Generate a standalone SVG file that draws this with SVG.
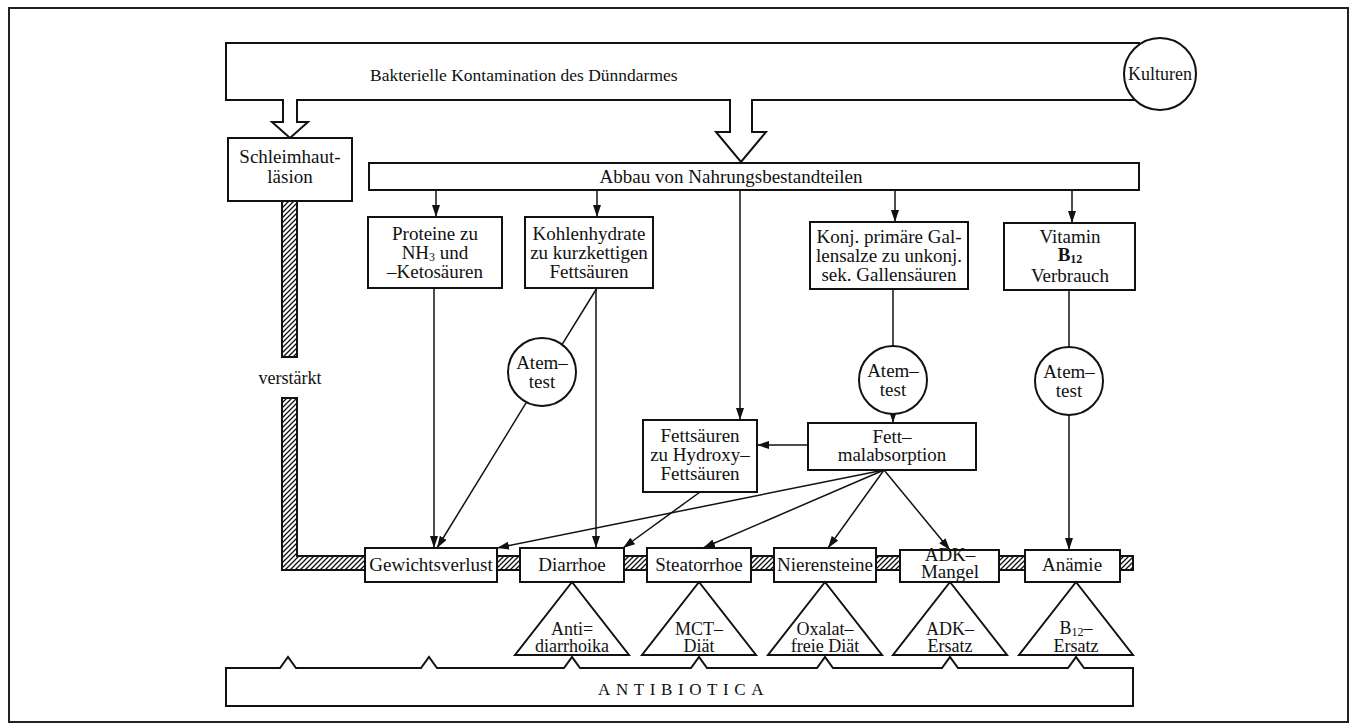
<svg xmlns="http://www.w3.org/2000/svg" width="1354" height="725" viewBox="0 0 1354 725">
<defs>
<style>
.t{font-family:"Liberation Serif","DejaVu Serif",serif;font-size:19px;text-anchor:middle;fill:#111}
.s{font-size:18px}
.st{text-anchor:start}
.box{fill:#fff;stroke:#111;stroke-width:2}
.ln{fill:none;stroke:#111;stroke-width:1.5}
.arr{fill:none;stroke:#111;stroke-width:1.5;marker-end:url(#ah)}
.sub{font-size:12px}
</style>
<marker id="ah" viewBox="0 0 12 8" markerWidth="12" markerHeight="8" refX="12" refY="4" orient="auto" markerUnits="userSpaceOnUse">
<path d="M0,0 L12,4 L0,8 Z" fill="#111"/>
</marker>
<pattern id="hatch" width="5" height="5" patternUnits="userSpaceOnUse">
<rect width="5" height="5" fill="#fff"/>
<path d="M0,5 L5,0 M-1,1 L1,-1 M4,6 L6,4" stroke="#111" stroke-width="1.3"/>
</pattern>
</defs>
<rect x="0" y="0" width="1354" height="725" fill="#fff"/>
<rect x="9" y="8" width="1339" height="714" fill="none" stroke="#222" stroke-width="2"/>

<g id="hatched-band">
<rect x="282" y="201" width="15" height="156" fill="url(#hatch)" stroke="#111" stroke-width="2"/>
<path d="M282,398 L282,570 L1133,570 L1133,556 L297,556 L297,398 Z" fill="url(#hatch)" stroke="#111" stroke-width="2"/>
<text class="t s" x="290" y="384">verstärkt</text>
</g>

<g id="connectors">
<line class="arr" x1="436" y1="190" x2="436" y2="217"/>
<line class="arr" x1="597" y1="190" x2="597" y2="217"/>
<line class="arr" x1="740" y1="190" x2="740" y2="420"/>
<line class="arr" x1="895" y1="190" x2="895" y2="222"/>
<line class="arr" x1="1072" y1="190" x2="1072" y2="223"/>
<line class="arr" x1="434" y1="288" x2="434" y2="548"/>
<line class="ln" x1="597" y1="288" x2="562" y2="344.6"/>
<line class="arr" x1="526.5" y1="402.2" x2="437" y2="548"/>
<line class="arr" x1="596" y1="288" x2="596" y2="548"/>
<line class="ln" x1="893" y1="289" x2="893" y2="347"/>
<line class="arr" x1="893" y1="413" x2="893" y2="423"/>
<line class="ln" x1="1069" y1="290" x2="1069" y2="347"/>
<line class="arr" x1="1069" y1="415" x2="1069" y2="550"/>
<line class="arr" x1="808" y1="445" x2="757" y2="445"/>
<line class="arr" x1="700" y1="492" x2="623" y2="548"/>
<line class="arr" x1="884" y1="470" x2="497" y2="548"/>
<line class="arr" x1="884" y1="470" x2="703" y2="548"/>
<line class="arr" x1="884" y1="470" x2="828" y2="548"/>
<line class="arr" x1="884" y1="470" x2="950" y2="550"/>
</g>

<g id="bakterielle-kontamination">
<path d="M1140,43 L226,43 L226,100 L283,100 L283,122 L272,122 L290,138 L308,122 L297,122 L297,100 L730,100 L730,132 L716,132 L741,162 L766,132 L752,132 L752,100 L1136,100" fill="#fff" stroke="#111" stroke-width="2"/>
<text class="t st" x="370" y="81" style="font-size:17.5px">Bakterielle Kontamination des Dünndarmes</text>
</g>
<g id="kulturen">
<circle cx="1160" cy="74" r="36" class="box"/>
<text class="t s" x="1160" y="80">Kulturen</text>
</g>

<g id="schleimhautlaesion">
<rect class="box" x="228" y="138" width="124" height="63"/>
<text class="t" x="290" y="163">Schleimhaut-</text>
<text class="t" x="290" y="183">läsion</text>
</g>

<g id="abbau">
<rect class="box" x="369" y="163" width="770" height="27"/>
<text class="t" x="731" y="183">Abbau von Nahrungsbestandteilen</text>
</g>

<g id="proteine">
<rect class="box" x="368" y="217" width="134" height="71"/>
<text class="t" x="435" y="240">Proteine zu</text>
<text class="t" x="435" y="259">NH<tspan class="sub" dy="2">3</tspan><tspan dy="-2"> und</tspan></text>
<text class="t" x="435" y="278">–Ketosäuren</text>
</g>

<g id="kohlenhydrate">
<rect class="box" x="525" y="217" width="128" height="71"/>
<text class="t" x="589" y="240">Kohlenhydrate</text>
<text class="t" x="589" y="259">zu kurzkettigen</text>
<text class="t" x="589" y="278">Fettsäuren</text>
</g>

<g id="gallensalze">
<rect class="box" x="810" y="222" width="158" height="67"/>
<text class="t" x="889" y="243">Konj. primäre Gal-</text>
<text class="t" x="889" y="262">lensalze zu unkonj.</text>
<text class="t" x="889" y="281">sek. Gallensäuren</text>
</g>

<g id="vitamin-b12">
<rect class="box" x="1004" y="223" width="131" height="67"/>
<text class="t" x="1070" y="243">Vitamin</text>
<text class="t" x="1070" y="261" font-weight="bold">B<tspan class="sub" dy="2">12</tspan></text>
<text class="t" x="1070" y="282">Verbrauch</text>
</g>

<g id="atemtest-1">
<circle class="box" cx="542" cy="372" r="34"/>
<text class="t" x="542" y="369">Atem–</text>
<text class="t" x="542" y="388">test</text>
</g>
<g id="atemtest-2">
<circle class="box" cx="893" cy="380" r="34"/>
<text class="t" x="893" y="377">Atem–</text>
<text class="t" x="893" y="396">test</text>
</g>
<g id="atemtest-3">
<circle class="box" cx="1069" cy="381" r="34"/>
<text class="t" x="1069" y="378">Atem–</text>
<text class="t" x="1069" y="397">test</text>
</g>

<g id="hydroxy-fettsaeuren">
<rect class="box" x="643" y="420" width="114" height="72"/>
<text class="t" x="700" y="442">Fettsäuren</text>
<text class="t" x="700" y="461">zu Hydroxy–</text>
<text class="t" x="700" y="480">Fettsäuren</text>
</g>

<g id="fettmalabsorption">
<rect class="box" x="808" y="423" width="168" height="47"/>
<text class="t" x="892" y="443">Fett–</text>
<text class="t" x="892" y="461">malabsorption</text>
</g>

<g id="gewichtsverlust">
<rect class="box" x="365" y="548" width="132" height="34"/>
<text class="t" x="431" y="571">Gewichtsverlust</text>
</g>
<g id="diarrhoe">
<rect class="box" x="520" y="548" width="104" height="34"/>
<text class="t" x="572" y="571">Diarrhoe</text>
</g>
<g id="steatorrhoe">
<rect class="box" x="647" y="548" width="104" height="34"/>
<text class="t" x="699" y="571">Steatorrhoe</text>
</g>
<g id="nierensteine">
<rect class="box" x="774" y="548" width="102" height="34"/>
<text class="t" x="825" y="571">Nierensteine</text>
</g>
<g id="adk-mangel">
<rect class="box" x="900" y="550" width="99" height="32"/>
<text class="t" x="950" y="561">ADK–</text>
<text class="t" x="950" y="578">Mangel</text>
</g>
<g id="anaemie">
<rect class="box" x="1025" y="550" width="95" height="32"/>
<text class="t" x="1072" y="571">Anämie</text>
</g>

<g id="antidiarrhoika">
<path class="box" d="M572,582 L629,655 L515,655 Z"/>
<text class="t s" x="572" y="635">Anti=</text>
<text class="t s" x="572" y="652">diarrhoika</text>
</g>
<g id="mct-diaet">
<path class="box" d="M699,582 L756,655 L642,655 Z"/>
<text class="t s" x="699" y="635">MCT–</text>
<text class="t s" x="699" y="652">Diät</text>
</g>
<g id="oxalatfreie-diaet">
<path class="box" d="M825,582 L882,655 L768,655 Z"/>
<text class="t s" x="825" y="635">Oxalat–</text>
<text class="t s" x="825" y="652">freie Diät</text>
</g>
<g id="adk-ersatz">
<path class="box" d="M950,582 L1007,655 L893,655 Z"/>
<text class="t s" x="950" y="635">ADK–</text>
<text class="t s" x="950" y="652">Ersatz</text>
</g>
<g id="b12-ersatz">
<path class="box" d="M1076,582 L1133,655 L1019,655 Z"/>
<text class="t s" x="1076" y="634">B<tspan class="sub" dy="2">12</tspan><tspan dy="-2">–</tspan></text>
<text class="t s" x="1076" y="652">Ersatz</text>
</g>

<g id="antibiotica">
<path class="box" d="M226,668 L280,668 L288,657 L296,668 L421,668 L429,657 L437,668 L564,668 L572,657 L580,668 L691,668 L699,657 L707,668 L817,668 L825,657 L833,668 L942,668 L950,657 L958,668 L1068,668 L1076,657 L1084,668 L1133,668 L1133,706 L226,706 Z"/>
<text class="t st" x="598" y="695" style="font-size:17px;letter-spacing:5.6px">ANTIBIOTICA</text>
</g>
</svg>
